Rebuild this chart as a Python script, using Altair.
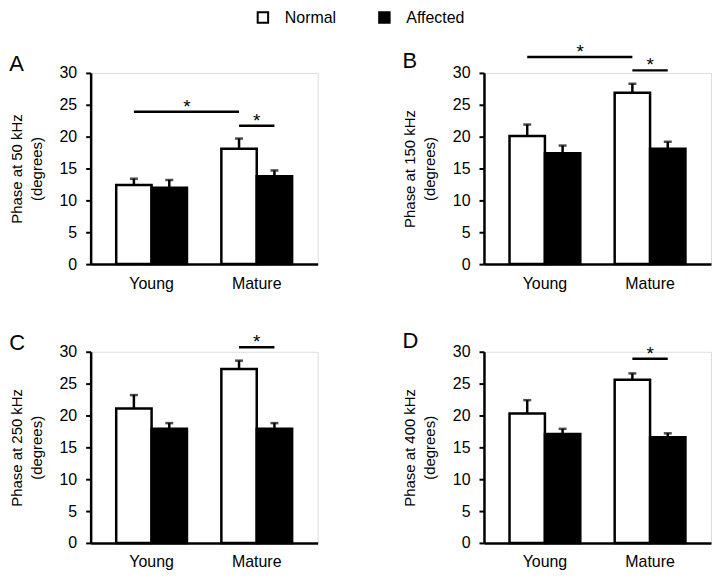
import altair as alt
import pandas as pd

panels = ["A", "B", "C", "D"]
frequencies = ["50 kHz", "150 kHz", "250 kHz", "400 kHz"]
ages = ["Young", "Mature"]
conditions = ["Normal", "Affected"]

# order within each panel: Young-Normal, Young-Affected, Mature-Normal, Mature-Affected
mean_A = [12.4, 12.0, 18.1, 13.8]
sem_A = [1.0, 1.2, 1.6, 0.9]
mean_B = [20.1, 17.4, 26.9, 18.1]
sem_B = [1.8, 1.2, 1.4, 1.1]
mean_C = [21.1, 17.9, 27.3, 17.9]
sem_C = [2.1, 0.9, 1.3, 0.9]
mean_D = [20.3, 17.1, 25.6, 16.6]
sem_D = [2.1, 0.8, 1.0, 0.6]

# significance brackets
sig_panel = ["A", "A", "B", "B", "C", "D"]
sig_from_age = ["Young", "Mature", "Young", "Mature", "Mature", "Mature"]
sig_from_cond = ["Normal", "Normal", "Normal", "Normal", "Normal", "Normal"]
sig_to_age = ["Mature", "Mature", "Mature", "Mature", "Mature", "Mature"]
sig_to_cond = ["Normal", "Affected", "Normal", "Affected", "Affected", "Affected"]
sig_height = [23.9, 21.7, 32.5, 30.4, 30.7, 28.9]

means = {"A": mean_A, "B": mean_B, "C": mean_C, "D": mean_D}
sems = {"A": sem_A, "B": sem_B, "C": sem_C, "D": sem_D}

rows = []
for p in panels:
    i = 0
    for a in ages:
        for c in conditions:
            m = means[p][i]
            s = sems[p][i]
            rows.append({"panel": p, "age": a, "condition": c, "mean": m, "upper": m + s})
            i += 1
bars_df = pd.DataFrame(rows)

line_rows = []
star_rows = []
for k in range(len(sig_panel)):
    line_rows.append({"panel": sig_panel[k], "comp": k, "age": sig_from_age[k],
                      "condition": sig_from_cond[k], "y": sig_height[k]})
    line_rows.append({"panel": sig_panel[k], "comp": k, "age": sig_to_age[k],
                      "condition": sig_to_cond[k], "y": sig_height[k]})
    kind = "within" if sig_from_age[k] == sig_to_age[k] else "between"
    star_rows.append({"panel": sig_panel[k], "age": sig_from_age[k], "kind": kind,
                      "y": sig_height[k], "star": "*"})
lines_df = pd.DataFrame(line_rows)
stars_df = pd.DataFrame(star_rows)

W, H = 228, 192
LW = 2.5
FONT = "Liberation Sans"
title_dy = {"A": 15, "B": 34, "C": 26, "D": 13}


def x_enc(**kw):
    return alt.X(
        "age:N", sort=ages,
        scale=alt.Scale(domain=ages, paddingInner=0.327, paddingOuter=0.243),
        axis=alt.Axis(title=None, labelAngle=0, ticks=False, labelPadding=11,
                      labelFontSize=16, labelColor="black", domainColor="black",
                      domainWidth=LW, labelFont=FONT),
        **kw,
    )


xo = alt.XOffset("condition:N", sort=conditions,
                 scale=alt.Scale(domain=conditions, paddingInner=0, paddingOuter=0))


def make_panel(p, freq):
    y_scale = alt.Scale(domain=[0, 30], nice=False)
    y_axis = alt.Axis(values=[0, 5, 10, 15, 20, 25, 30], title=["Phase at " + freq, "(degrees)"],
                      titleFontSize=15, titleFontWeight="normal", titleColor="black",
                      titleFont=FONT, titleLineHeight=20, titlePadding=15,
                      labelFontSize=16, labelColor="black", labelFont=FONT,
                      labelPadding=9, tickSize=5, tickWidth=2, tickColor="black",
                      domainColor="black", domainWidth=LW, grid=False, labelOverlap=False)

    def y_enc(field):
        return alt.Y(field, scale=y_scale, axis=y_axis)

    bdf = bars_df[bars_df.panel == p]
    ldf = lines_df[lines_df.panel == p]
    sdf = stars_df[stars_df.panel == p]

    bars = alt.Chart(bdf).mark_bar(stroke="black", strokeWidth=LW).encode(
        x=x_enc(), xOffset=xo,
        y=y_enc("mean:Q"),
        fill=alt.Fill("condition:N", sort=conditions,
                      scale=alt.Scale(domain=conditions, range=["white", "black"]),
                      legend=alt.Legend(title=None)),
    )
    err = alt.Chart(bdf).mark_rule(color="black", strokeWidth=LW).encode(
        x=x_enc(), xOffset=xo, y=y_enc("mean:Q"), y2="upper:Q")
    cap = alt.Chart(bdf).mark_tick(color="black", thickness=LW, size=8, orient="horizontal").encode(
        x=x_enc(), xOffset=xo, y=y_enc("upper:Q"))
    sig = alt.Chart(ldf).mark_line(color="black", strokeWidth=LW).encode(
        x=x_enc(), xOffset=xo, y=y_enc("y:Q"), detail="comp:N")
    star_within = alt.Chart(sdf).transform_filter(alt.datum.kind == "within").mark_text(
        fontSize=19, baseline="alphabetic", dy=1, color="black", font=FONT).encode(
        x=x_enc(), y=y_enc("y:Q"), text="star:N")
    star_between = alt.Chart(sdf).transform_filter(alt.datum.kind == "between").mark_text(
        fontSize=19, baseline="alphabetic", dy=1, color="black", font=FONT).encode(
        x=x_enc(bandPosition=1), y=y_enc("y:Q"), text="star:N")
    return alt.layer(bars, err, cap, sig, star_within, star_between).properties(
        width=W, height=H,
        title=alt.TitleParams(p, anchor="start", fontSize=22, fontWeight="normal",
                              font=FONT, color="black", dy=title_dy[p]),
    )


pa = [make_panel(p, f) for p, f in zip(panels, frequencies)]
top = alt.hconcat(pa[0], pa[1], spacing=83)
bottom = alt.hconcat(pa[2], pa[3], spacing=83)
chart = alt.vconcat(top, bottom, spacing=37).resolve_scale(fill="shared").resolve_legend(fill="shared")
chart = chart.properties(padding=0).configure_view(stroke=None).configure(font=FONT).configure_legend(
    orient="none", legendX=165, legendY=-64, direction="horizontal", columns=2,
    symbolType="square", symbolSize=110, symbolStrokeColor="black", symbolStrokeWidth=2,
    labelFontSize=16, labelColor="black", labelFont=FONT, labelOffset=14,
    columnPadding=38, symbolOpacity=1,
)
chart.save("out.html", embed_options={"renderer": "svg", "actions": False})
